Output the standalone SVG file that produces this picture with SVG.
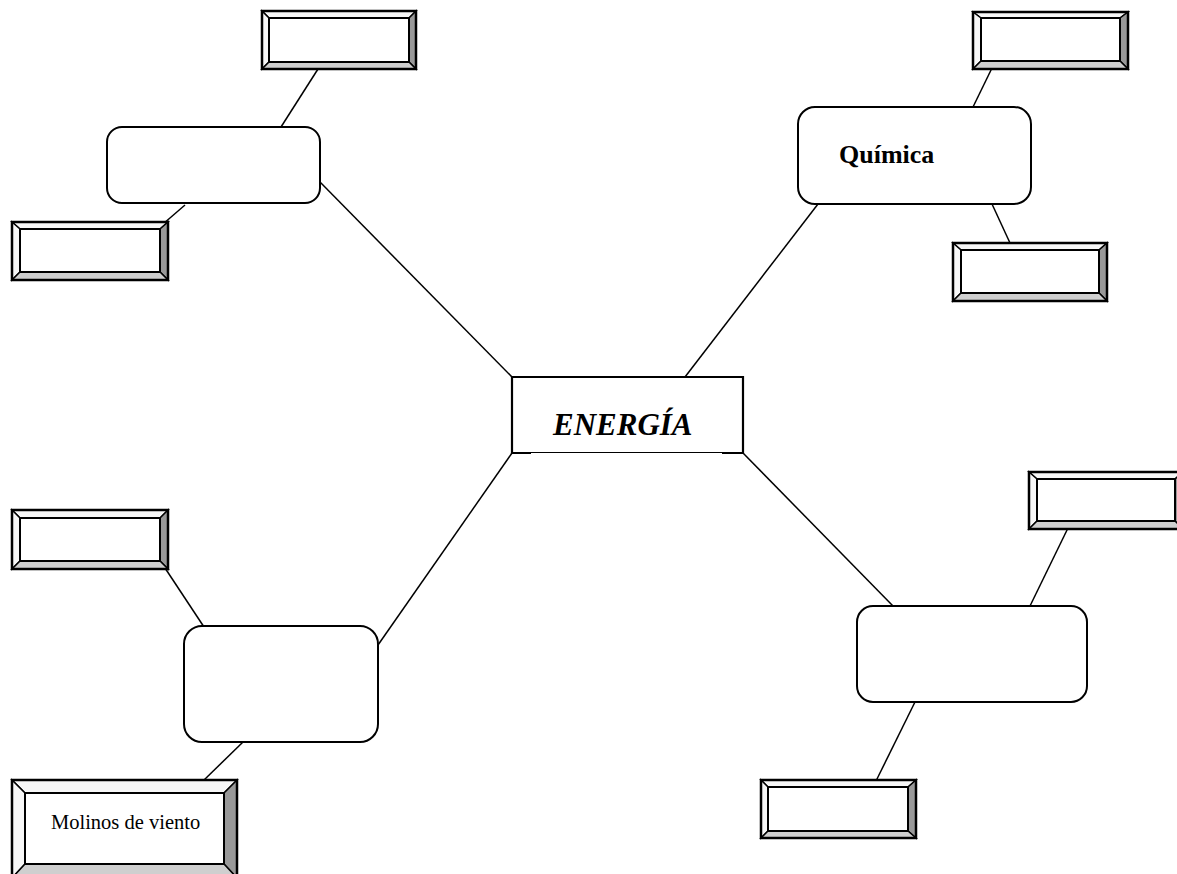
<svg xmlns="http://www.w3.org/2000/svg" width="1177" height="874" viewBox="0 0 1177 874">
<style>
.ln{stroke:#000;stroke-width:1.5;fill:none}
.eb{stroke:#000;stroke-width:2.2;fill:none}
.rr{fill:#fff;stroke:#000;stroke-width:2}
.bt{fill:#f7f7f7;stroke:#000;stroke-width:1.5;stroke-linejoin:miter}
.br{fill:#999;stroke:#000;stroke-width:1.5}
.bb{fill:#cfcfcf;stroke:#000;stroke-width:1.5}
.in{fill:#fff;stroke:#000;stroke-width:2}
.out{fill:none;stroke:#000;stroke-width:2.5}
.tx{font-family:"Liberation Serif","Times New Roman",serif;fill:#000}
</style>
<rect width="1177" height="874" fill="#fff"/>
<g id="connectors">
<line class="ln" x1="320" y1="182" x2="512" y2="377"/>
<line class="ln" x1="685" y1="377" x2="818" y2="204"/>
<line class="ln" x1="512" y1="453" x2="378" y2="645"/>
<line class="ln" x1="743" y1="453" x2="893" y2="606"/>
<line class="ln" x1="281" y1="127" x2="318" y2="69"/>
<line class="ln" x1="185" y1="205" x2="163" y2="224"/>
<line class="ln" x1="973" y1="107" x2="992" y2="68"/>
<line class="ln" x1="992" y1="204" x2="1010" y2="243"/>
<line class="ln" x1="165" y1="568" x2="204" y2="627"/>
<line class="ln" x1="243" y1="742" x2="203" y2="781"/>
<line class="ln" x1="1030" y1="606" x2="1068" y2="528"/>
<line class="ln" x1="915" y1="702" x2="876" y2="781"/>
</g>
<g id="energia">
<rect x="512" y="377" width="231" height="76" fill="#fff"/>
<path class="eb" d="M531 453 H512 V377 H743 V453 H722"/>
<line x1="531" y1="452.5" x2="722" y2="452.5" stroke="#000" stroke-width="1"/>
<text class="tx" x="553" y="435" font-size="31" font-weight="bold" font-style="italic">ENERGÍA</text>
</g>
<g id="node-tl">
<rect class="rr" x="107" y="127" width="213" height="76" rx="15"/>
</g>
<g id="node-quimica">
<rect class="rr" x="798" y="107" width="233" height="97" rx="17"/>
<text class="tx" x="839" y="163" font-size="26" font-weight="bold">Química</text>
</g>
<g id="node-bl">
<rect class="rr" x="184" y="626" width="194" height="116" rx="18"/>
</g>
<g id="node-br">
<rect class="rr" x="857" y="606" width="230" height="96" rx="16"/>
</g>
<g id="box-a">
<polygon class="bt" points="262,11 416,11 409,18 269,18"/>
<polygon class="bt" points="262,11 269,18 269,62 262,69"/>
<polygon class="br" points="416,11 416,69 409,62 409,18"/>
<polygon class="bb" points="262,69 416,69 409,62 269,62"/>
<rect class="in" x="269" y="18" width="140" height="44"/>
<rect class="out" x="262" y="11" width="154" height="58"/>
</g>
<g id="box-b">
<polygon class="bt" points="12,222 168,222 160,229 20,229"/>
<polygon class="bt" points="12,222 20,229 20,272 12,280"/>
<polygon class="br" points="168,222 168,280 160,272 160,229"/>
<polygon class="bb" points="12,280 168,280 160,272 20,272"/>
<rect class="in" x="20" y="229" width="140" height="43"/>
<rect class="out" x="12" y="222" width="156" height="58"/>
</g>
<g id="box-c">
<polygon class="bt" points="12,510 168,510 160,518 20,518"/>
<polygon class="bt" points="12,510 20,518 20,561 12,569"/>
<polygon class="br" points="168,510 168,569 160,561 160,518"/>
<polygon class="bb" points="12,569 168,569 160,561 20,561"/>
<rect class="in" x="20" y="518" width="140" height="43"/>
<rect class="out" x="12" y="510" width="156" height="59"/>
</g>
<g id="box-d">
<polygon class="bt" points="12,780 237,780 224,793 25,793"/>
<polygon class="bt" points="12,780 25,793 25,864 12,878"/>
<polygon class="br" points="237,780 237,878 224,864 224,793"/>
<polygon class="bb" points="12,878 237,878 224,864 25,864"/>
<rect class="in" x="25" y="793" width="199" height="71"/>
<rect class="out" x="12" y="780" width="225" height="98"/>
<text class="tx" x="51" y="829" font-size="20.5">Molinos de viento</text>
</g>
<g id="box-e">
<polygon class="bt" points="1029,472 1183,472 1175,479 1037,479"/>
<polygon class="bt" points="1029,472 1037,479 1037,521 1029,529"/>
<polygon class="br" points="1183,472 1183,529 1175,521 1175,479"/>
<polygon class="bb" points="1029,529 1183,529 1175,521 1037,521"/>
<rect class="in" x="1037" y="479" width="138" height="42"/>
<rect class="out" x="1029" y="472" width="154" height="57"/>
</g>
<g id="box-f">
<polygon class="bt" points="761,780 916,780 908,787 768,787"/>
<polygon class="bt" points="761,780 768,787 768,831 761,838"/>
<polygon class="br" points="916,780 916,838 908,831 908,787"/>
<polygon class="bb" points="761,838 916,838 908,831 768,831"/>
<rect class="in" x="768" y="787" width="140" height="44"/>
<rect class="out" x="761" y="780" width="155" height="58"/>
</g>
<g id="box-g">
<polygon class="bt" points="953,243 1107,243 1099,250 961,250"/>
<polygon class="bt" points="953,243 961,250 961,293 953,301"/>
<polygon class="br" points="1107,243 1107,301 1099,293 1099,250"/>
<polygon class="bb" points="953,301 1107,301 1099,293 961,293"/>
<rect class="in" x="961" y="250" width="138" height="43"/>
<rect class="out" x="953" y="243" width="154" height="58"/>
</g>
<g id="box-h">
<polygon class="bt" points="973,12 1128,12 1120,18 981,18"/>
<polygon class="bt" points="973,12 981,18 981,61 973,69"/>
<polygon class="br" points="1128,12 1128,69 1120,61 1120,18"/>
<polygon class="bb" points="973,69 1128,69 1120,61 981,61"/>
<rect class="in" x="981" y="18" width="139" height="43"/>
<rect class="out" x="973" y="12" width="155" height="57"/>
</g>
</svg>
